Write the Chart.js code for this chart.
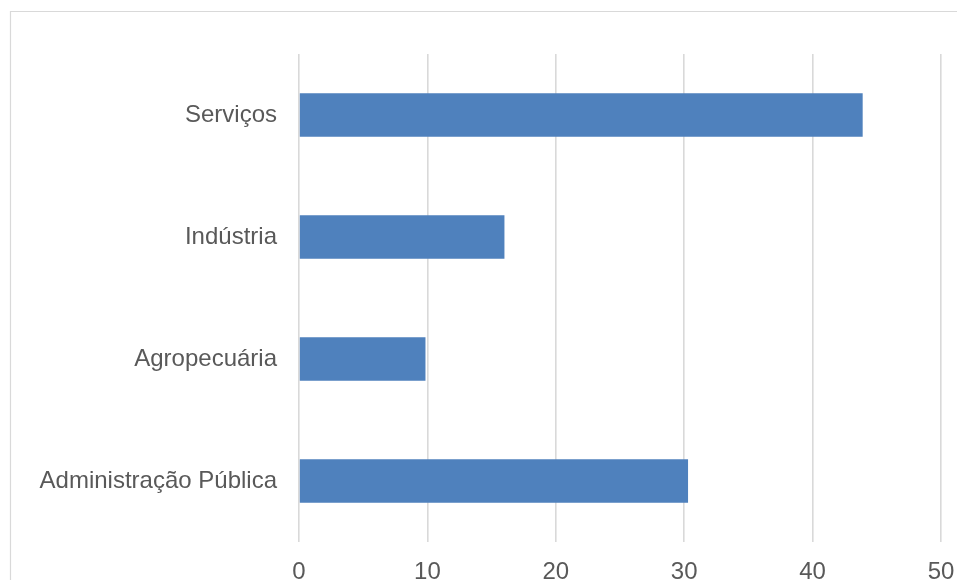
<!DOCTYPE html>
<html>
<head>
<meta charset="utf-8">
<script src="https://cdn.jsdelivr.net/npm/chart.js@4/dist/chart.umd.min.js"></script>
<style>
  html, body { margin: 0; padding: 0; background: #ffffff; }
  #wrap { width: 957px; height: 580px; position: relative; }
</style>
</head>
<body>
<div id="wrap"><canvas id="c"></canvas></div>
<script>
const categories = ["Serviços", "Indústria", "Agropecuária", "Administração Pública"];
const values = [43.9, 16.0, 9.85, 30.3];
const xMin = 0;
const xMax = 50;
const xStep = 10;

const frame = {
  id: 'frame',
  beforeDraw(chart) {
    const ctx = chart.ctx;
    ctx.save();
    ctx.strokeStyle = '#d9d9d9';
    ctx.lineWidth = 1.2;
    ctx.beginPath();
    ctx.moveTo(10.5, chart.height);
    ctx.lineTo(10.5, 11.5);
    ctx.lineTo(chart.width, 11.5);
    ctx.stroke();
    ctx.restore();
  }
};

new Chart(document.getElementById('c'), {
  type: 'bar',
  data: {
    labels: categories,
    datasets: [{
      data: values,
      backgroundColor: '#4f81bd',
      borderWidth: 0,
      barPercentage: 0.355,
      categoryPercentage: 1.0
    }]
  },
  options: {
    indexAxis: 'y',
    responsive: true,
    maintainAspectRatio: false,
    animation: false,
    layout: { padding: { left: 0, right: 16, top: 54, bottom: 0 } },
    plugins: { legend: { display: false }, tooltip: { enabled: false } },
    scales: {
      x: {
        min: xMin, max: xMax,
        ticks: { stepSize: xStep, color: '#595959', padding: 16,
                 font: { family: "'Liberation Sans', Arial, sans-serif", size: 24 } },
        grid: { color: '#d9d9d9', lineWidth: 1.6, drawTicks: false },
        border: { display: false },
        afterFit(scale) { scale.height = 38; scale.paddingRight = 0; scale.paddingLeft = 0; }
      },
      y: {
        ticks: { color: '#595959', padding: 22,
                 font: { family: "'Liberation Sans', Arial, sans-serif", size: 24 } },
        grid: { display: false, drawTicks: false },
        border: { display: false },
        afterFit(scale) { scale.width = 299; }
      }
    }
  },
  plugins: [frame]
});
</script>
</body>
</html>
